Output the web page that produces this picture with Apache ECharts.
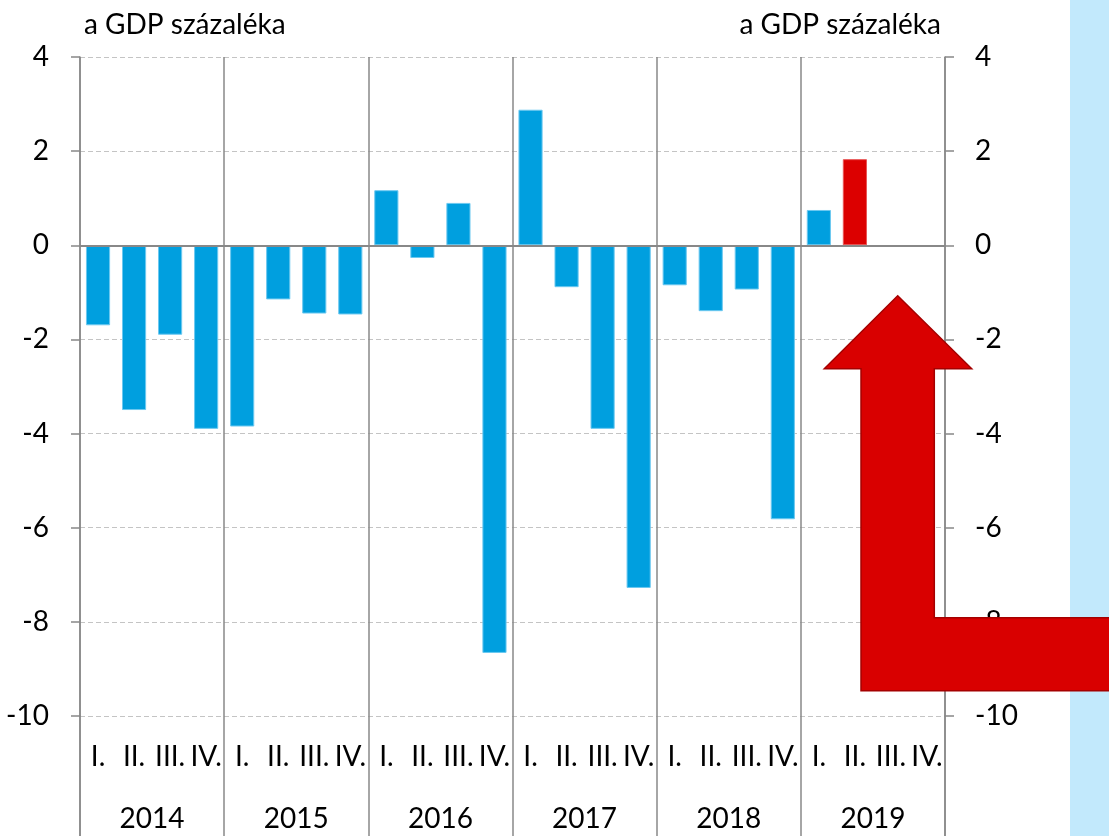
<!DOCTYPE html>
<html>
<head>
<meta charset="utf-8">
<script src="https://cdn.jsdelivr.net/npm/echarts@6/dist/echarts.min.js"></script>
<style>
html,body{margin:0;padding:0;background:#fff;}
#chart{width:1109px;height:836px;}
</style>
</head>
<body>
<div id="chart"></div>
<script>
const years = ['2014', '2015', '2016', '2017', '2018', '2019'];
const quarterNames = ['I.', 'II.', 'III.', 'IV.'];
const values = [
  -1.7, -3.5, -1.9, -3.9,
  -3.85, -1.15, -1.45, -1.47,
  1.17, -0.27, 0.9, -8.66,
  2.88, -0.89, -3.9, -7.28,
  -0.85, -1.4, -0.94, -5.82,
  0.75, 1.83, null, null
];
const highlightIndex = 21;
const axisTitle = 'a GDP százaléka';

const quarters = [];
years.forEach(y => quarterNames.forEach(q => quarters.push(q)));

const FONT = 'Lato';
const FS = 28;
const blue = '#009FDF';
const red = '#DC0000';
const gray = '#888888';

const barData = values.map((v, i) => i === highlightIndex
  ? { value: v, itemStyle: { color: red, borderColor: '#e85555' } }
  : v);

const chart = echarts.init(document.getElementById('chart'), null, { renderer: 'canvas' });
const option = {
  backgroundColor: '#ffffff',
  animation: false,
  grid: [
    { left: 80, right: 164, top: 57, bottom: 120, containLabel: false },
    { left: 80, right: 164, top: 716, bottom: 0, containLabel: false }
  ],
  xAxis: [
    {
      gridIndex: 0, type: 'category', data: quarters, position: 'bottom',
      axisLine: { show: false }, axisTick: { show: false },
      axisLabel: { interval: 0, margin: 27, color: '#000', fontFamily: FONT, fontSize: FS },
      splitLine: { show: false }
    },
    {
      gridIndex: 0, type: 'category', data: years, position: 'bottom',
      axisLine: { show: false }, axisTick: { show: false }, axisLabel: { show: false },
      splitLine: { show: true, interval: 0, lineStyle: { color: gray, width: 1.5 } }
    },
    {
      gridIndex: 1, type: 'category', data: years, position: 'top',
      axisLine: { show: false }, axisTick: { show: false },
      axisLabel: { inside: true, interval: 0, margin: 89, color: '#000', fontFamily: FONT, fontSize: FS },
      splitLine: { show: true, interval: 0, lineStyle: { color: gray, width: 1.5 } }
    }
  ],
  yAxis: [
    {
      gridIndex: 0, type: 'value', min: -10, max: 4, interval: 2, position: 'left',
      name: axisTitle, nameLocation: 'end', nameGap: 32,
      nameTextStyle: { color: '#000', fontFamily: FONT, fontSize: FS, align: 'left', verticalAlign: 'middle', padding: [0, 0, 0, 4] },
      axisLine: { show: true, lineStyle: { color: gray, width: 1.5 } },
      axisTick: { show: true, length: 9, lineStyle: { color: gray, width: 1.5 } },
      axisLabel: { margin: 31, color: '#000', fontFamily: FONT, fontSize: FS },
      splitLine: { show: true, lineStyle: { color: '#c4c4c4', type: [5, 3], width: 1.2 } }
    },
    {
      gridIndex: 0, type: 'value', min: -10, max: 4, interval: 2, position: 'right',
      name: axisTitle, nameLocation: 'end', nameGap: 32,
      nameTextStyle: { color: '#000', fontFamily: FONT, fontSize: FS, align: 'right', verticalAlign: 'middle', padding: [0, 4, 0, 0] },
      axisLine: { show: true, lineStyle: { color: gray, width: 1.5 } },
      axisTick: { show: true, length: 9, lineStyle: { color: gray, width: 1.5 } },
      axisLabel: { margin: 30, color: '#000', fontFamily: FONT, fontSize: FS },
      splitLine: { show: false }
    },
    {
      gridIndex: 1, type: 'value', min: 0, max: 1, position: 'left',
      axisLine: { show: true, lineStyle: { color: gray, width: 1.5 } },
      axisTick: { show: false }, axisLabel: { show: false }, splitLine: { show: false }
    },
    {
      gridIndex: 1, type: 'value', min: 0, max: 1, position: 'right',
      axisLine: { show: true, lineStyle: { color: gray, width: 1.5 } },
      axisTick: { show: false }, axisLabel: { show: false }, splitLine: { show: false }
    }
  ],
  series: [
    {
      type: 'bar', xAxisIndex: 0, yAxisIndex: 0,
      data: barData, barWidth: '67%',
      itemStyle: { color: blue, borderColor: '#6cc8f0', borderWidth: 1 },
      markLine: {
        silent: true, symbol: ['none', 'none'], label: { show: false },
        lineStyle: { color: gray, type: 'solid', width: 2 },
        data: [{ yAxis: 0 }]
      },
      z: 3
    }
  ],
  graphic: [
    {
      type: 'rect', left: 1070, top: 0, z: 0,
      shape: { width: 39, height: 836 },
      style: { fill: '#C2E9FC' }
    },
    {
      type: 'polygon', z: 100,
      shape: {
        points: [
          [897.7, 295.7], [971.7, 368.7], [934.3, 368.7], [934.3, 617.7],
          [1115, 617.7], [1115, 690.7], [861, 690.7], [861, 368.7], [824.3, 368.7]
        ]
      },
      style: { fill: '#D90000', stroke: '#A50000', lineWidth: 1.5 }
    }
  ]
};
chart.setOption(option);
</script>
</body>
</html>
